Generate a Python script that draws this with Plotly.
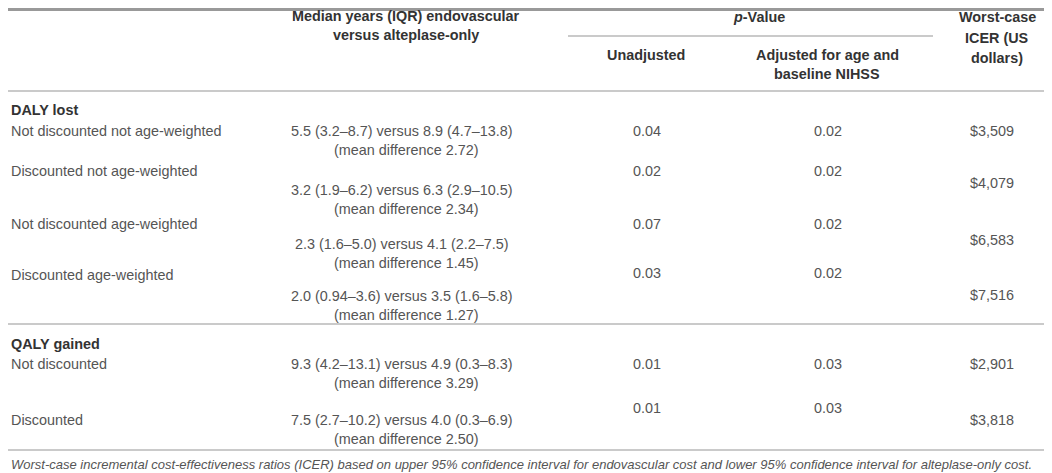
import plotly.graph_objects as go

# table content
sections = ["DALY lost", "QALY gained"]
row_labels = [
    "Not discounted not age-weighted",
    "Discounted not age-weighted",
    "Not discounted age-weighted",
    "Discounted age-weighted",
    "Not discounted",
    "Discounted",
]
median_iqr = [
    "5.5 (3.2–8.7) versus 8.9 (4.7–13.8)",
    "3.2 (1.9–6.2) versus 6.3 (2.9–10.5)",
    "2.3 (1.6–5.0) versus 4.1 (2.2–7.5)",
    "2.0 (0.94–3.6) versus 3.5 (1.6–5.8)",
    "9.3 (4.2–13.1) versus 4.9 (0.3–8.3)",
    "7.5 (2.7–10.2) versus 4.0 (0.3–6.9)",
]
mean_diff = [2.72, 2.34, 1.45, 1.27, 3.29, 2.50]
p_unadjusted = [0.04, 0.02, 0.07, 0.03, 0.01, 0.01]
p_adjusted = [0.02, 0.02, 0.02, 0.02, 0.03, 0.03]
icer_usd = [3509, 4079, 6583, 7516, 2901, 3818]

footnote = ("Worst-case incremental cost-effectiveness ratios (ICER) based on upper 95% "
            "confidence interval for endovascular cost and lower 95% confidence interval "
            "for alteplase-only cost.")

# layout (pixel coords of the page, y down); the page body adds an 8px margin,
# so the axis ranges are offset by it
W, H = 1052, 473
OFF = 8
x_label, x_med, x_pu, x_pa, x_icer = OFF + 0.5, 402, 647, 828, 992
section_y = [110, 344]
label_y = [131, 171, 224, 275, 364, 420]
med_y = [131, 190, 244, 296, 364, 420]
p_y = [131, 171, 224, 273, 364, 408]
icer_y = [131, 183, 240, 295, 364, 420]

body = dict(family="Liberation Sans", size=14.4, color="#555555")
bold = dict(family="Liberation Sans", size=14.4, color="#333333")

fig = go.Figure()
ann = []

def txt(x, y, s, font, anchor="center"):
    ann.append(dict(x=x, y=y, xref="x", yref="y", text=s, showarrow=False,
                    xanchor=anchor, yanchor="middle", font=font, align="center"))

# header
txt(406, 16, "<b>Median years (IQR) endovascular</b>", bold)
txt(406, 35, "<b>versus alteplase-only</b>", bold)
txt(759, 17, "<b><i>p</i>-Value</b>", bold)
txt(646, 55, "<b>Unadjusted</b>", bold)
txt(827, 55, "<b>Adjusted for age and</b>", bold)
txt(827, 74, "<b>baseline NIHSS</b>", bold)
txt(997, 17, "<b>Worst-case</b>", bold)
txt(997, 38, "<b>ICER (US</b>", bold)
txt(997, 58, "<b>dollars)</b>", bold)

for s, y in zip(sections, section_y):
    txt(x_label, y, "<b>" + s + "</b>", bold, "left")

for i in range(len(row_labels)):
    txt(x_label, label_y[i], row_labels[i], body, "left")
    txt(x_med, med_y[i], median_iqr[i], body)
    txt(406, med_y[i] + 19, "(mean difference %.2f)" % mean_diff[i], body)
    txt(x_pu, p_y[i], "%.2f" % p_unadjusted[i], body)
    txt(x_pa, p_y[i], "%.2f" % p_adjusted[i], body)
    txt(x_icer, icer_y[i], "${:,}".format(icer_usd[i]), body)

ann.append(dict(x=x_label, y=464, xref="x", yref="y", text="<i>" + footnote + "</i>",
                showarrow=False, xanchor="left", yanchor="middle",
                font=dict(family="Liberation Sans", size=13.0, color="#555555")))

line = dict(color="#b8b8b8", width=1.5)
shapes = [
    dict(type="line", x0=0, x1=W + OFF, y0=OFF + 1.5, y1=OFF + 1.5, line=dict(color="#999999", width=3)),
    dict(type="line", x0=568, x1=933, y0=36, y1=36, line=line),
    dict(type="line", x0=0, x1=W + OFF, y0=91, y1=91, line=line),
    dict(type="line", x0=0, x1=W + OFF, y0=324, y1=324, line=line),
    dict(type="line", x0=0, x1=W + OFF, y0=450, y1=450, line=line),
]
for s in shapes:
    s.update(xref="x", yref="y")

fig.update_layout(
    width=W, height=H, margin=dict(l=0, r=0, t=0, b=0),
    paper_bgcolor="white", plot_bgcolor="white",
    xaxis=dict(range=[OFF, W + OFF], visible=False, fixedrange=True),
    yaxis=dict(range=[H + OFF, OFF], visible=False, fixedrange=True),
    annotations=ann, shapes=shapes, showlegend=False,
)

fig.write_html("out.html")
